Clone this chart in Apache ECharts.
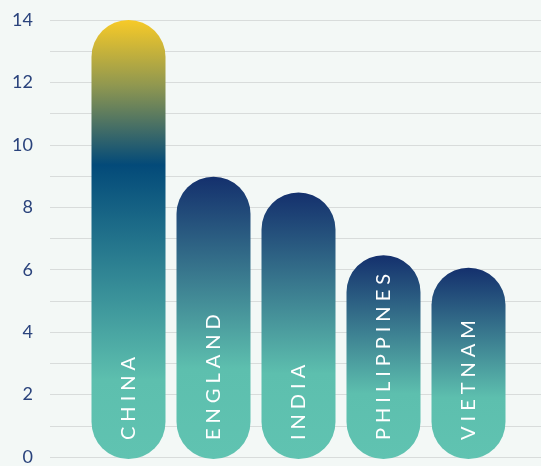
<!DOCTYPE html>
<html>
<head>
<meta charset="utf-8">
<script src="https://cdn.jsdelivr.net/npm/echarts@6/dist/echarts.min.js"></script>
<style>
html,body{margin:0;padding:0;background:#f3f8f6;}
#c{width:541px;height:466px;}
</style>
</head>
<body>
<div id="c"></div>
<script>
const categories = ['CHINA', 'ENGLAND', 'INDIA', 'PHILIPPINES', 'VIETNAM'];
const values = [14, 9, 8.5, 6.5, 6.1];
const yTicks = [0, 2, 4, 6, 8, 10, 12, 14];

const chart = echarts.init(document.getElementById('c'), null, {renderer: 'canvas'});

function grad(i) {
  if (i === 0) {
    return new echarts.graphic.LinearGradient(0, 0, 0, 1, [
      {offset: 0, color: '#f7ca28'},
      {offset: 0.15, color: '#8f9750'},
      {offset: 0.33, color: '#034a79'},
      {offset: 0.82, color: '#5dbfae'},
      {offset: 1, color: '#60c3b1'}
    ]);
  }
  return new echarts.graphic.LinearGradient(0, 0, 0, 1, [
    {offset: 0, color: '#14306d'},
    {offset: 0.68, color: '#5dbfae'},
    {offset: 1, color: '#60c3b1'}
  ]);
}

const spaced = s => s.split('').join('\u2005');

chart.setOption({
  backgroundColor: '#f3f8f6',
  animation: false,
  grid: [
    {left: 50, right: 0, top: 20, bottom: 7},
    {left: 86, right: 30, top: 20, bottom: 7}
  ],
  xAxis: [
    {gridIndex: 0, type: 'value', show: false, min: 0, max: 1},
    {gridIndex: 1, type: 'category', data: categories, show: false}
  ],
  yAxis: [
    {
      gridIndex: 0, type: 'value', min: 0, max: 14, interval: 1,
      axisLine: {show: false}, axisTick: {show: false},
      splitLine: {lineStyle: {color: '#d8dcdb', width: 1}},
      axisLabel: {
        color: '#2a437c', fontSize: 18, fontFamily: 'Lato', margin: 17,
        formatter: v => (yTicks.indexOf(v) >= 0 ? String(v) : '')
      }
    },
    {gridIndex: 1, type: 'value', min: 0, max: 14, show: false}
  ],
  series: [{
    type: 'bar',
    xAxisIndex: 1, yAxisIndex: 1,
    barWidth: 74,
    data: values.map((v, i) => ({value: v, itemStyle: {color: grad(i), borderRadius: 37}})),
    label: {
      show: true,
      position: 'insideBottom',
      rotate: 90,
      align: 'left',
      verticalAlign: 'middle',
      distance: 19,
      color: '#ffffff',
      fontSize: 20,
      fontFamily: 'Lato',
      formatter: p => spaced(p.name)
    }
  }]
});
</script>
</body>
</html>
